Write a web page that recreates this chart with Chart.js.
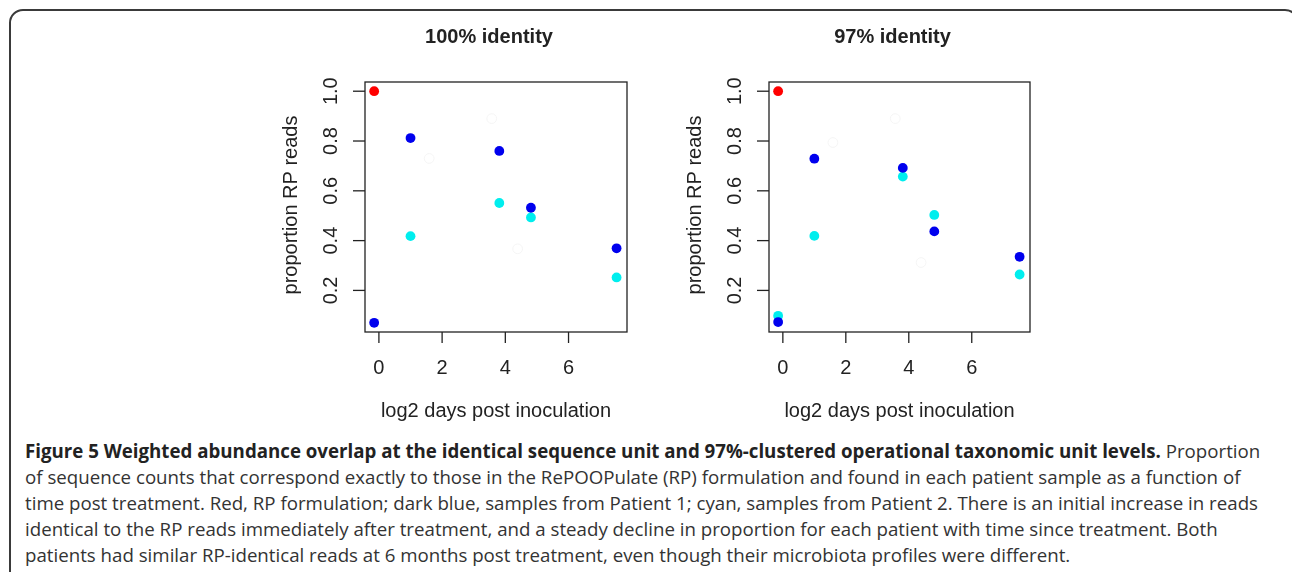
<!DOCTYPE html>
<html>
<head>
<meta charset="utf-8">
<script src="https://cdn.jsdelivr.net/npm/chart.js@4.4.1/dist/chart.umd.min.js"></script>
<style>
  html, body { margin: 0; padding: 0; background: #fff; }
  body { width: 1292px; height: 572px; position: relative; overflow: hidden; }
  #frame {
    position: absolute; left: 9px; top: 9px; width: 1290px; height: 600px;
    border: 2px solid #3a3a3a; border-radius: 14px; box-sizing: border-box;
  }
  .panel { position: absolute; top: 0; width: 400px; height: 430px; }
  #p1 { left: 250px; }
  #p2 { left: 654px; }
  #caption {
    position: absolute; left: 25px; top: 438px;
    font-family: "Open Sans", sans-serif; font-size: 18.7px; line-height: 26px;
    color: #333; white-space: nowrap;
  }
  #caption b { font-weight: 700; color: #222; }
</style>
</head>
<body>
<div id="frame"></div>
<div class="panel" id="p1"><canvas id="c1" width="400" height="430"></canvas></div>
<div class="panel" id="p2"><canvas id="c2" width="400" height="430"></canvas></div>
<div id="caption">
<b>Figure 5 Weighted abundance overlap at the identical sequence unit and 97%-clustered operational taxonomic unit levels.</b> Proportion<br>
of sequence counts that correspond exactly to those in the RePOOPulate (RP) formulation and found in each patient sample as a function of<br>
time post treatment. Red, RP formulation; dark blue, samples from Patient 1; cyan, samples from Patient 2. There is an initial increase in reads<br>
identical to the RP reads immediately after treatment, and a steady decline in proportion for each patient with time since treatment. Both<br>
patients had similar RP-identical reads at 6 months post treatment, even though their microbiota profiles were different.
</div>
<script>
// log2 days post inoculation for each sample
var days = [-0.15, 1.0, 3.81, 4.81, 7.52];
var rpDay = [-0.15];
var rpValue = [1.0];

// 100% identity panel
var p1Ident100 = [0.07, 0.812, 0.760, 0.532, 0.369];
var p2Days100 = [1.0, 3.81, 4.81, 7.52];
var p2Ident100 = [0.418, 0.551, 0.493, 0.252];

// 97% identity panel
var p1Ident97 = [0.073, 0.729, 0.692, 0.437, 0.335];
var p2Days97 = [-0.15, 1.0, 3.81, 4.81, 7.52];
var p2Ident97 = [0.098, 0.419, 0.657, 0.503, 0.264];

// faint white points (hidden samples)
var hiddenDays = [1.59, 3.57, 4.39];
var hidden100 = [0.73, 0.89, 0.367];
var hidden97 = [0.794, 0.89, 0.312];

var xTicks = [0, 2, 4, 6];
var yTicks = [0.2, 0.4, 0.6, 0.8, 1.0];
var xLimits = [-0.44, 7.85];
var yLimits = [0.033, 1.037];

function pts(xs, ys) {
    return xs.map(function(x, i) { return { x: x, y: ys[i] }; });
}

var axisFont = '20px "Liberation Sans", Arial, sans-serif';
var titleFont = 'bold 20px "Liberation Sans", Arial, sans-serif';

// draws the R style box, ticks and labels using the chart scales
var rFrame = {
    id: 'rFrame',
    afterDraw: function(chart, args, opts) {
        var ctx = chart.ctx;
        var a = chart.chartArea;
        var xs = chart.scales.x, ys = chart.scales.y;
        ctx.save();
        ctx.strokeStyle = '#222';
        ctx.lineWidth = 1.3;
        ctx.strokeRect(a.left, a.top, a.right - a.left, a.bottom - a.top);

        ctx.fillStyle = '#222';
        ctx.font = axisFont;
        ctx.textAlign = 'center';
        ctx.textBaseline = 'alphabetic';
        xTicks.forEach(function(t) {
            var px = xs.getPixelForValue(t);
            ctx.beginPath();
            ctx.moveTo(px, a.bottom);
            ctx.lineTo(px, a.bottom + 11);
            ctx.stroke();
            ctx.fillText(String(t), px, a.bottom + 42);
        });
        yTicks.forEach(function(t) {
            var py = ys.getPixelForValue(t);
            ctx.beginPath();
            ctx.moveTo(a.left, py);
            ctx.lineTo(a.left - 12, py);
            ctx.stroke();
            ctx.save();
            ctx.translate(a.left - 28, py);
            ctx.rotate(-Math.PI / 2);
            ctx.fillText(t.toFixed(1), 0, 0);
            ctx.restore();
        });

        // axis titles
        var cx = (a.left + a.right) / 2;
        var cy = (a.top + a.bottom) / 2;
        ctx.fillText('log2 days post inoculation', cx, a.bottom + 85);
        ctx.save();
        ctx.translate(a.left - 68, cy - 2);
        ctx.rotate(-Math.PI / 2);
        ctx.fillText('proportion RP reads', 0, 0);
        ctx.restore();

        ctx.font = titleFont;
        ctx.fillText(opts.title, cx - 7, 43);
        ctx.restore();
    }
};

function makeChart(id, title, pad, p1, p2Days, p2, hidden) {
    var common = { showLine: false, pointRadius: 4.9, pointHoverRadius: 4.9, borderWidth: 0 };
    return new Chart(document.getElementById(id), {
        type: 'scatter',
        data: {
            datasets: [
                Object.assign({ label: 'RP', data: pts(rpDay, rpValue), backgroundColor: '#ff0000', order: 0 }, common),
                Object.assign({ label: 'Patient 1', data: pts(days, p1), backgroundColor: '#0000ee', order: 1 }, common),
                Object.assign({ label: 'Patient 2', data: pts(p2Days, p2), backgroundColor: '#00eeee', order: 2 }, common),
                Object.assign({}, common, { label: 'hidden', data: pts(hiddenDays, hidden), backgroundColor: '#ffffff',
                    borderColor: '#f5f5f5', borderWidth: 1, order: 3 })
            ]
        },
        options: {
            responsive: false,
            animation: false,
            layout: { padding: pad },
            scales: {
                x: { type: 'linear', display: false, min: xLimits[0], max: xLimits[1] },
                y: { type: 'linear', display: false, min: yLimits[0], max: yLimits[1] }
            },
            plugins: {
                legend: { display: false },
                tooltip: { enabled: false },
                rFrame: { title: title }
            }
        },
        plugins: [rFrame]
    });
}

makeChart('c1', '100% identity', { left: 115, top: 82, right: 23, bottom: 98 },
    p1Ident100, p2Days100, p2Ident100, hidden100);
makeChart('c2', '97% identity', { left: 115, top: 82, right: 24, bottom: 98 },
    p1Ident97, p2Days97, p2Ident97, hidden97);
</script>
</body>
</html>
